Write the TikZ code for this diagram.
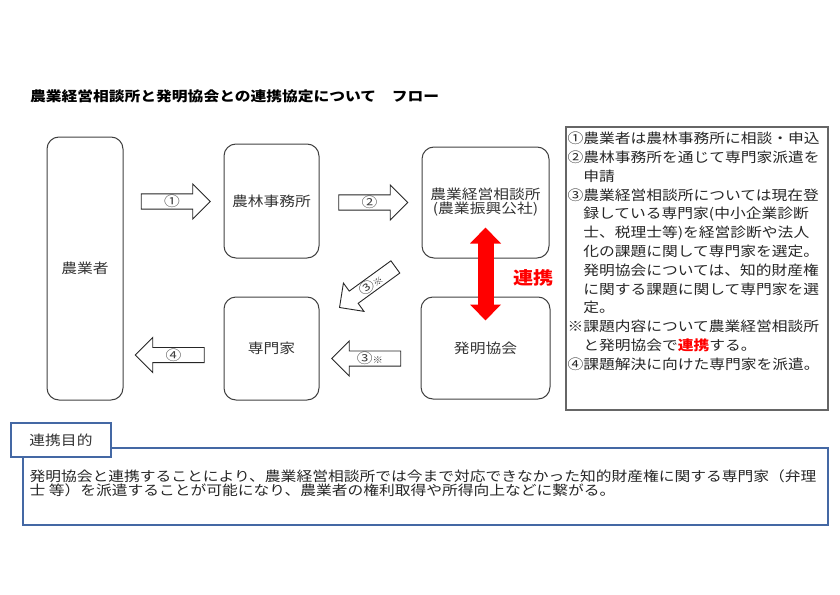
\documentclass[tikz,border=0pt]{standalone}
\usepackage{fontspec}
\setmainfont[FakeStretch=1.15]{Noto Sans CJK JP}
\usetikzlibrary{shapes.arrows}
\usetikzlibrary{arrows.meta}
\usetikzlibrary{positioning}
\definecolor{tabblue}{RGB}{68,104,164}
\definecolor{linkred}{RGB}{255,0,0}
\newcommand\jpsize{\fontsize{13.7pt}{14pt}\selectfont}
\newcommand\smallmark{{\fontsize{9pt}{9pt}\selectfont ※}}

\begin{document}
\begin{tikzpicture}[x=1pt,y=-1pt,
	box/.style={rectangle,rounded corners=12pt,draw=black!75,line width=1pt,
		text=black!80,font=\jpsize,align=center,inner sep=0pt},
	blockarrow/.style={single arrow,draw=black!85,fill=white,line width=0.9pt,
		minimum height=69pt,minimum width=35pt,single arrow head extend=9pt,
		inner sep=0pt,text=black!75,font=\jpsize},
	linkarrow/.style={draw=linkred,line width=16pt,
		{Triangle[length=16pt,width=30pt]}-{Triangle[length=16pt,width=30pt]}},
	tabbox/.style={rectangle,draw=tabblue,line width=1.2pt,fill=white,
		font=\jpsize,text=black!80,minimum width=100pt,minimum height=34pt}]
	\useasboundingbox (0,0) rectangle (840,594);
	
	\node[anchor=west,inner sep=0pt,font=\jpsize\bfseries] (title) at (30,96)
		{農業経営相談所と発明協会との連携協定について　フロー};
	
	\node[box,minimum width=76pt,minimum height=263pt] (farmer) at (85,268.5) {農業者};
	\node[box,minimum width=95pt,minimum height=114pt] (office) at (271.5,201) {農林事務所};
	\node[box,minimum width=127pt,minimum height=111pt] (consult) at (485.5,202.5)
		{農業経営相談所\\(農業振興公社)};
	\node[box,minimum width=95pt,minimum height=103pt] (expert) at (271.5,348.5) {専門家};
	\node[box,minimum width=129pt,minimum height=102pt] (invent) at (485.5,348) {発明協会};
	
	\node[blockarrow] (step1) at (172,201.5) {①};
	\node[blockarrow] (step2) at (369.5,202.5) {②};
	\node[blockarrow,rotate=36,shape border rotate=180] (step3b) at (370.5,285) {③\smallmark};
	\node[blockarrow,shape border rotate=180] (step3a) at (370,358.5) {③\smallmark};
	\node[blockarrow,shape border rotate=180] (step4) at (173.5,355) {④};
	
	\draw[linkarrow,shorten <=-31pt,shorten >=-24pt] (consult.south) -- (invent.north)
		node[midway,right=20pt,inner sep=0pt,text=linkred,
		font=\fontsize{17.5pt}{18pt}\selectfont\bfseries] (linklabel) {連携};
	
	\node[rectangle,draw=black!60,line width=1.2pt,minimum width=262pt,
		minimum height=283pt] (notes) at (697,268.5) {};
	\node[anchor=north west,inner sep=0pt,align=left,text=black!85,
		font=\fontsize{13.7pt}{18.8pt}\selectfont] (notetext)
		at ([xshift=2pt,yshift=-5.5pt]notes.north west)
		{①農業者は農林事務所に相談・申込\\
		②農林事務所を通じて専門家派遣を\\
		　申請\\
		③農業経営相談所については現在登\\
		　録している専門家(中小企業診断\\
		　士、税理士等)を経営診断や法人\\
		　化の課題に関して専門家を選定。\\
		　発明協会については、知的財産権\\
		　に関する課題に関して専門家を選\\
		　定。\\
		※課題内容について農業経営相談所\\
		　と発明協会で{\bfseries\color{linkred}連携}する。\\
		④課題解決に向けた専門家を派遣。};
	
	\node[rectangle,draw=tabblue,line width=1.2pt,minimum width=805pt,
		minimum height=77pt] (purpose) at (425.5,486.5) {};
	\node[anchor=west,inner sep=0pt,align=left,text=black!85,font=\jpsize] (purposetext)
		at ([xshift=7pt,yshift=3.5pt]purpose.west)
		{発明協会と連携することにより、農業経営相談所では今まで対応できなかった知的財産権に関する専門家（弁理\\
		士 等）を派遣することが可能になり、農業者の権利取得や所得向上などに繋がる。};
	\node[tabbox] (tab) at (61,440) {連携目的};
\end{tikzpicture}
\end{document}
